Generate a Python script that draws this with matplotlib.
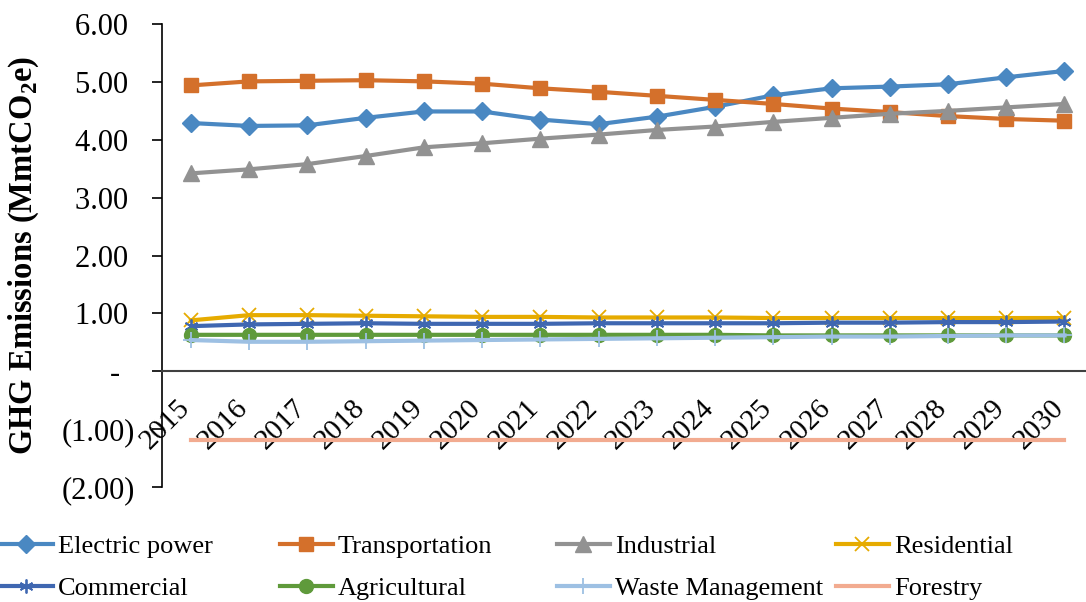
import numpy as np
import matplotlib.pyplot as plt
from matplotlib.ticker import FuncFormatter, FixedLocator
from matplotlib.transforms import ScaledTranslation

plt.rcParams['font.family'] = ['Liberation Serif', 'DejaVu Serif']
plt.rcParams['mathtext.fontset'] = 'custom'
plt.rcParams['mathtext.rm'] = 'Liberation Serif'
plt.rcParams['mathtext.bf'] = 'Liberation Serif:bold'

# GHG emissions by sector, MmtCO2e
years = ['2015', '2016', '2017', '2018', '2019', '2020', '2021', '2022',
         '2023', '2024', '2025', '2026', '2027', '2028', '2029', '2030']
electric = [4.29, 4.24, 4.25, 4.38, 4.49, 4.49, 4.35, 4.27,
            4.40, 4.57, 4.77, 4.89, 4.92, 4.96, 5.08, 5.19]
transport = [4.94, 5.01, 5.02, 5.03, 5.01, 4.97, 4.89, 4.83,
             4.76, 4.69, 4.62, 4.54, 4.48, 4.41, 4.36, 4.33]
industrial = [3.42, 3.49, 3.58, 3.72, 3.87, 3.94, 4.02, 4.09,
              4.17, 4.23, 4.31, 4.38, 4.45, 4.50, 4.56, 4.62]
residential = [0.88, 0.97, 0.97, 0.96, 0.95, 0.94, 0.94, 0.93,
               0.93, 0.93, 0.92, 0.92, 0.92, 0.92, 0.92, 0.92]
commercial = [0.78, 0.81, 0.82, 0.83, 0.82, 0.82, 0.82, 0.83,
              0.83, 0.83, 0.83, 0.84, 0.84, 0.85, 0.85, 0.86]
agricultural = [0.63, 0.63, 0.63, 0.63, 0.63, 0.63, 0.63, 0.63,
                0.63, 0.63, 0.62, 0.62, 0.62, 0.62, 0.62, 0.62]
waste = [0.54, 0.51, 0.51, 0.52, 0.53, 0.54, 0.55, 0.56,
         0.57, 0.58, 0.59, 0.60, 0.60, 0.61, 0.62, 0.62]
forestry = [-1.19, -1.19, -1.19, -1.19, -1.19, -1.19, -1.19, -1.19,
            -1.19, -1.19, -1.19, -1.19, -1.19, -1.19, -1.19, -1.19]

series = [
    ('Electric power', electric, '#4a88c2', dict(marker='D', ms=9)),
    ('Transportation', transport, '#d4702b', dict(marker='s', ms=10)),
    ('Industrial', industrial, '#929292', dict(marker='^', ms=11)),
    ('Residential', residential, '#e6ab00', dict(marker='x', ms=10, mew=1.3)),
    ('Commercial', commercial, '#3f67b1', dict(marker=(6, 2, 0), ms=10, mew=1.3)),
    ('Agricultural', agricultural, '#5f9a3b', dict(marker='o', ms=10)),
    ('Waste Management', waste, '#9dc0e3', dict(marker='+', ms=11, mew=1.3)),
    ('Forestry', forestry, '#f2ab90', dict(marker='None')),
]

fig = plt.figure(figsize=(10.86, 6.02), dpi=100)
ax = fig.add_axes([0.149, 0.191, 0.858, 0.769])

x = np.arange(len(years))
handles = []
for name, vals, col, mk in series:
    h, = ax.plot(x, vals, color=col, lw=3, label=name, **mk)
    handles.append(h)

ax.set_xlim(-0.5, len(years) - 0.5)
ax.set_ylim(-2, 6)

# spines first: moving the bottom spine resets the tick labels
ax.spines['top'].set_visible(False)
ax.spines['right'].set_visible(False)
ax.spines['bottom'].set_position(('data', 0))
ax.spines['bottom'].set_color('#404040')
ax.spines['bottom'].set_linewidth(1.5)
ax.spines['left'].set_linewidth(1.2)

ax.yaxis.set_major_locator(FixedLocator(np.arange(-2, 7, 1)))


def acct(v, pos):
    # accounting style: dash for zero, brackets for negatives
    if abs(v) < 1e-9:
        return '-  '
    if v < 0:
        return '(%.2f)' % abs(v)
    return '%.2f ' % v


ax.yaxis.set_major_formatter(FuncFormatter(acct))
ax.tick_params(axis='y', labelsize=22, direction='out', length=7, width=1.2, pad=12)

ax.set_xticks(x)
ax.set_xticklabels(years)
ax.tick_params(axis='x', length=0, pad=17, labelsize=21, labelrotation=45)
for lab in ax.get_xticklabels():
    lab.set_ha('right')
    lab.set_va('top')
    lab.set_transform(lab.get_transform() + ScaledTranslation(3 / 72, 0, fig.dpi_scale_trans))

ax.set_ylabel('GHG Emissions (MmtCO$_{\\mathbf{2}}$e)', fontsize=23.5, fontweight='bold')
ax.yaxis.set_label_coords(-0.13, 0.5)

# legend laid out as four columns at fixed positions
col_x = [0, 280, 557, 836]
for i, cx in enumerate(col_x):
    fig.legend(handles=[handles[i], handles[i + 4]], loc='upper left',
               bbox_to_anchor=(cx / 1086, 1 - 535 / 602), frameon=False,
               fontsize=19, handlelength=2.0, handletextpad=0.2,
               borderpad=0, borderaxespad=0, labelspacing=0.7, numpoints=1)

fig.savefig('out.png', dpi=100)
